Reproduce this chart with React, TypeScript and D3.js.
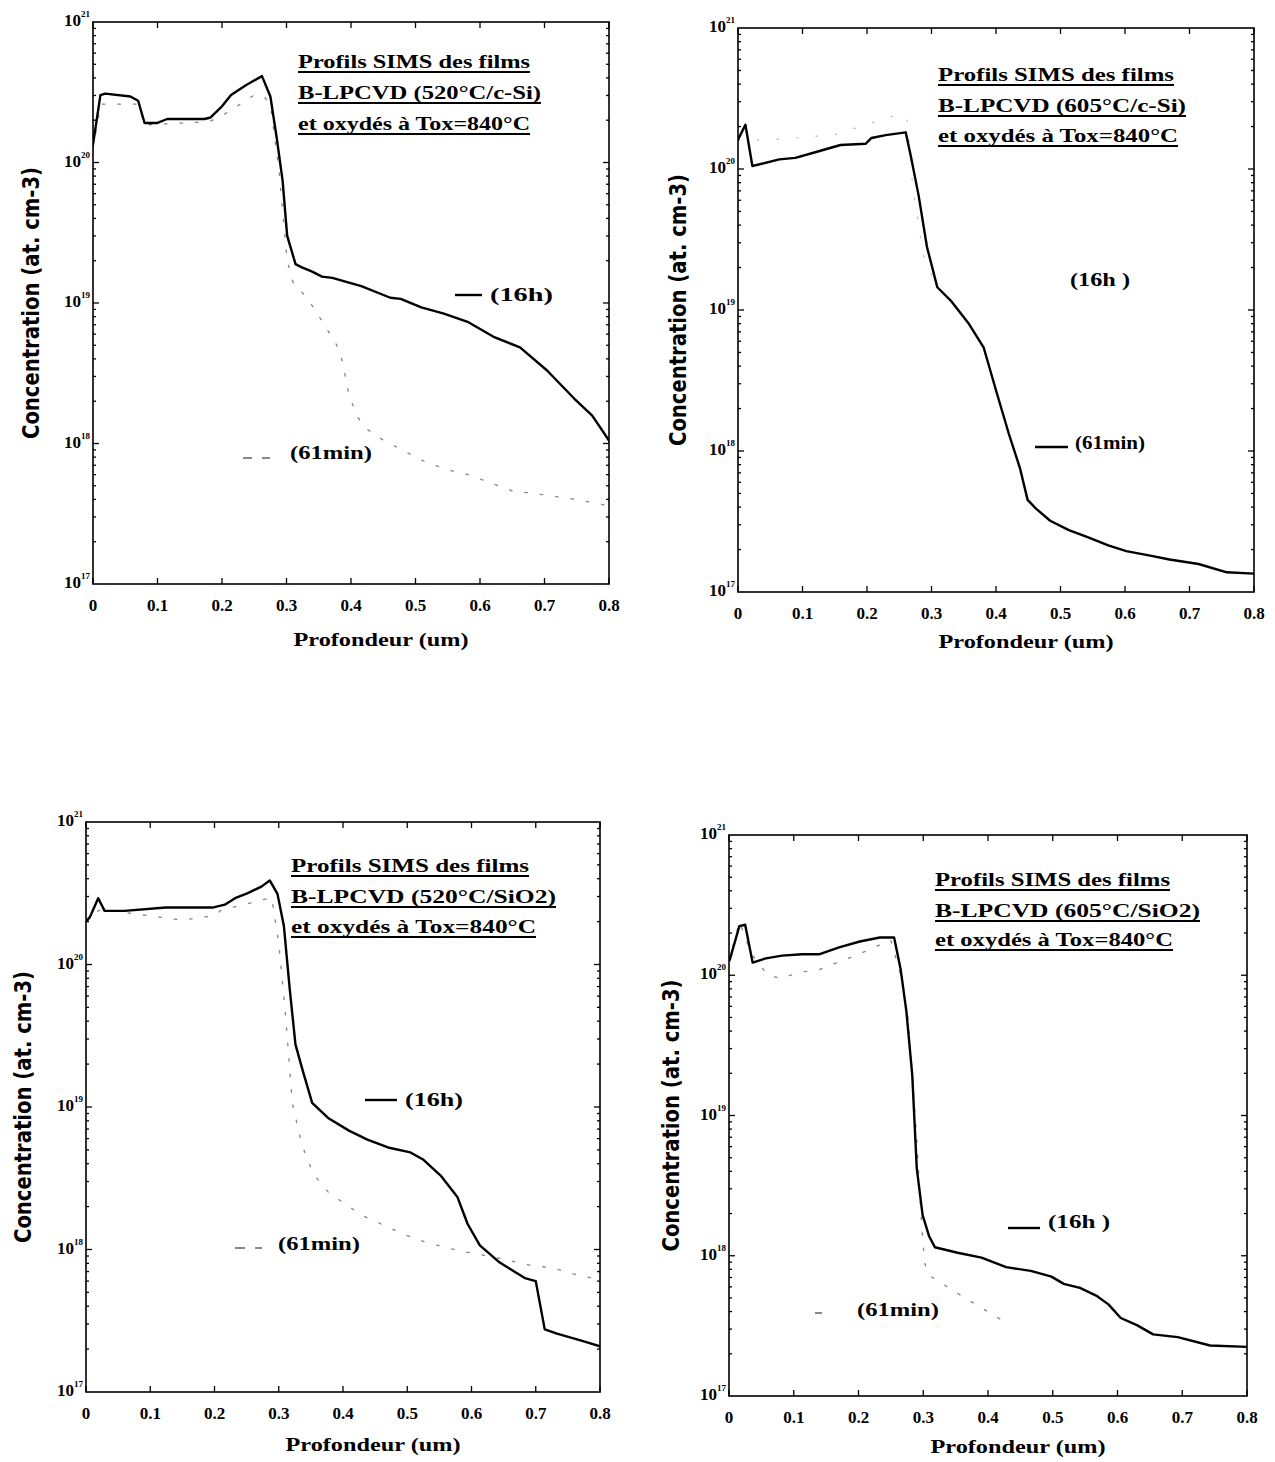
import React from "react";
import * as d3 from "d3";

// ---- shared axes ----
const depthTicks = [0, 0.1, 0.2, 0.3, 0.4, 0.5, 0.6, 0.7, 0.8];
const depthTickLabels = ["0", "0.1", "0.2", "0.3", "0.4", "0.5", "0.6", "0.7", "0.8"];
const decadeExponents = [17, 18, 19, 20, 21];
const xAxisTitle = "Profondeur (um)";
const yAxisTitle = "Concentration (at. cm-3)";

// ---- panel 1 : 520°C / c-Si ----
const p1Depth16h = [0, 0.0115, 0.019, 0.058, 0.07, 0.08, 0.099, 0.115, 0.173, 0.182, 0.2, 0.214, 0.237, 0.262, 0.275, 0.285, 0.294, 0.301, 0.314, 0.323, 0.339, 0.355, 0.371, 0.416, 0.461, 0.477, 0.509, 0.544, 0.582, 0.621, 0.662, 0.704, 0.746, 0.774, 0.8];
const p1Conc16h = [1.34e20, 3.02e20, 3.09e20, 2.95e20, 2.75e20, 1.91e20, 1.91e20, 2.04e20, 2.04e20, 2.09e20, 2.51e20, 3.02e20, 3.55e20, 4.12e20, 2.95e20, 1.48e20, 7.4e19, 3.02e19, 1.89e19, 1.8e19, 1.68e19, 1.54e19, 1.51e19, 1.32e19, 1.09e19, 1.07e19, 9.3e18, 8.4e18, 7.3e18, 5.75e18, 4.83e18, 3.31e18, 2.09e18, 1.58e18, 1.05e18];
const p1Depth61min = [0, 0.012, 0.07, 0.08, 0.18, 0.2, 0.25, 0.265, 0.275, 0.288, 0.301, 0.31, 0.333, 0.358, 0.378, 0.387, 0.397, 0.41, 0.422, 0.451, 0.515, 0.55, 0.582, 0.65, 0.685, 0.749, 0.8];
const p1Conc61min = [1.26e20, 2.6e20, 2.6e20, 1.85e20, 1.95e20, 2.15e20, 3.02e20, 2.95e20, 2.57e20, 9.1e19, 2.0e19, 1.41e19, 1.07e19, 7.1e18, 5.0e18, 3.8e18, 2.19e18, 1.55e18, 1.29e18, 1.05e18, 7.4e17, 6.5e17, 6.0e17, 4.6e17, 4.4e17, 4.0e17, 3.6e17];

// ---- panel 2 : 605°C / c-Si ----
const p2Depth61min = [0, 0.0115, 0.0223, 0.064, 0.089, 0.121, 0.159, 0.198, 0.207, 0.229, 0.26, 0.268, 0.28, 0.293, 0.309, 0.331, 0.357, 0.381, 0.401, 0.42, 0.437, 0.449, 0.462, 0.484, 0.513, 0.542, 0.574, 0.602, 0.637, 0.669, 0.714, 0.758, 0.8];
const p2Conc61min = [1.61e20, 2.06e20, 1.05e20, 1.17e20, 1.2e20, 1.32e20, 1.48e20, 1.51e20, 1.66e20, 1.74e20, 1.82e20, 1.23e20, 6.5e19, 2.8e19, 1.45e19, 1.15e19, 8.1e18, 5.4e18, 2.6e18, 1.32e18, 7.6e17, 4.5e17, 3.9e17, 3.2e17, 2.75e17, 2.45e17, 2.14e17, 1.95e17, 1.82e17, 1.7e17, 1.58e17, 1.38e17, 1.35e17];
const p2Depth16h = [0, 0.057, 0.15, 0.249, 0.262, 0.271, 0.287, 0.31];
const p2Conc16h = [1.6e20, 1.62e20, 1.75e20, 2.45e20, 2.3e20, 7.4e19, 2.45e19, 1.4e19];

// ---- panel 3 : 520°C / SiO2 ----
const p3Depth16h = [0, 0.006, 0.019, 0.029, 0.06, 0.124, 0.197, 0.216, 0.232, 0.251, 0.273, 0.286, 0.298, 0.308, 0.317, 0.326, 0.337, 0.352, 0.378, 0.41, 0.438, 0.47, 0.505, 0.524, 0.552, 0.578, 0.594, 0.613, 0.644, 0.683, 0.7, 0.714, 0.733, 0.771, 0.8];
const p3Conc16h = [2.0e20, 2.15e20, 2.92e20, 2.38e20, 2.38e20, 2.51e20, 2.51e20, 2.63e20, 2.92e20, 3.16e20, 3.52e20, 3.89e20, 3.13e20, 1.86e20, 6.8e19, 2.75e19, 1.82e19, 1.07e19, 8.3e18, 6.8e18, 5.9e18, 5.2e18, 4.8e18, 4.3e18, 3.3e18, 2.34e18, 1.51e18, 1.07e18, 8.1e17, 6.3e17, 6.0e17, 2.75e17, 2.57e17, 2.29e17, 2.09e17];
const p3Depth61min = [0, 0.02, 0.05, 0.149, 0.2, 0.21, 0.289, 0.3, 0.311, 0.321, 0.333, 0.343, 0.356, 0.378, 0.429, 0.498, 0.53, 0.581, 0.632, 0.689, 0.727, 0.771, 0.8];
const p3Conc61min = [2.0e20, 2.4e20, 2.35e20, 2.05e20, 2.2e20, 2.4e20, 2.95e20, 1.41e20, 4.2e19, 1.07e19, 6.2e18, 4.4e18, 3.3e18, 2.5e18, 1.74e18, 1.26e18, 1.12e18, 9.8e17, 8.9e17, 7.8e17, 7.4e17, 6.5e17, 6.2e17];

// ---- panel 4 : 605°C / SiO2 ----
const p4Depth16h = [0.001, 0.016, 0.025, 0.0365, 0.057, 0.082, 0.113, 0.139, 0.17, 0.202, 0.233, 0.255, 0.265, 0.274, 0.283, 0.29, 0.299, 0.309, 0.318, 0.353, 0.39, 0.428, 0.466, 0.498, 0.517, 0.542, 0.567, 0.586, 0.605, 0.63, 0.655, 0.693, 0.743, 0.8];
const p4Conc16h = [1.28e20, 2.24e20, 2.29e20, 1.23e20, 1.32e20, 1.38e20, 1.41e20, 1.41e20, 1.58e20, 1.74e20, 1.86e20, 1.86e20, 1.11e20, 5.5e19, 1.95e19, 4.2e18, 1.95e18, 1.38e18, 1.15e18, 1.05e18, 9.7e17, 8.3e17, 7.8e17, 7.1e17, 6.3e17, 5.9e17, 5.2e17, 4.5e17, 3.6e17, 3.2e17, 2.75e17, 2.63e17, 2.29e17, 2.24e17];
const p4Depth61min = [0, 0.016, 0.035, 0.06, 0.08, 0.11, 0.14, 0.2, 0.25, 0.265, 0.277, 0.29, 0.296, 0.302, 0.31, 0.35, 0.42];
const p4Conc61min = [1.26e20, 2.4e20, 1.41e20, 1.0e20, 9.5e19, 1.05e20, 1.1e20, 1.41e20, 1.78e20, 1.0e20, 4.8e19, 6.8e18, 2.1e18, 8.9e17, 7.2e17, 5.5e17, 3.5e17];

// ---- annotation text ----
const titleLine1 = "Profils SIMS des films";
const titleLine3 = "et oxydés à Tox=840°C";
const p1Title2 = "B-LPCVD (520°C/c-Si)";
const p2Title2 = "B-LPCVD (605°C/c-Si)";
const p3Title2 = "B-LPCVD (520°C/SiO2)";
const p4Title2 = "B-LPCVD (605°C/SiO2)";
const label16h = "(16h)";
const label16hSpaced = "(16h )";
const label61min = "(61min)";

const SERIF = "'Liberation Serif', 'Times New Roman', serif";
const HAND = "'DejaVu Sans', 'Noto Sans', sans-serif";

type Frame = { x0: number; x1: number; y0: number; y1: number };
type Curve = { depth: number[]; conc: number[]; kind: "solid" | "dashed" | "faint" };
type LegendItem = {
  text: string;
  tx: number;
  ty: number;
  tw: number;
  segs: [number, number][];
  sy: number;
  kind: "solid" | "dashed";
};
type PanelCfg = {
  id: string;
  frame: Frame;
  curves: Curve[];
  titles: string[];
  titleX: number;
  titleBase: number[];
  titleW: number[];
  legends: LegendItem[];
  yLabelX: number;
  xTitleDy: number;
};

const panels: PanelCfg[] = [
  {
    id: "p1",
    frame: { x0: 93, x1: 609, y0: 22, y1: 584 },
    curves: [
      { depth: p1Depth61min, conc: p1Conc61min, kind: "dashed" },
      { depth: p1Depth16h, conc: p1Conc16h, kind: "solid" },
    ],
    titles: [titleLine1, p1Title2, titleLine3],
    titleX: 298,
    titleBase: [68, 99, 130],
    titleW: [232, 243, 232],
    legends: [
      { text: label16h, tx: 490, ty: 301, tw: 63, segs: [[455, 482]], sy: 295, kind: "solid" },
      { text: label61min, tx: 290, ty: 459, tw: 82, segs: [[243, 252], [262, 270]], sy: 458, kind: "dashed" },
    ],
    yLabelX: 30,
    xTitleDy: 62,
  },
  {
    id: "p2",
    frame: { x0: 738, x1: 1254, y0: 28, y1: 592 },
    curves: [
      { depth: p2Depth16h, conc: p2Conc16h, kind: "faint" },
      { depth: p2Depth61min, conc: p2Conc61min, kind: "solid" },
    ],
    titles: [titleLine1, p2Title2, titleLine3],
    titleX: 938,
    titleBase: [81, 112, 142],
    titleW: [236, 248, 240],
    legends: [
      { text: label16hSpaced, tx: 1070, ty: 286, tw: 60, segs: [], sy: 0, kind: "solid" },
      { text: label61min, tx: 1075, ty: 449, tw: 70, segs: [[1035, 1068]], sy: 447, kind: "solid" },
    ],
    yLabelX: 677,
    xTitleDy: 56,
  },
  {
    id: "p3",
    frame: { x0: 86, x1: 600, y0: 822, y1: 1392 },
    curves: [
      { depth: p3Depth61min, conc: p3Conc61min, kind: "dashed" },
      { depth: p3Depth16h, conc: p3Conc16h, kind: "solid" },
    ],
    titles: [titleLine1, p3Title2, titleLine3],
    titleX: 291,
    titleBase: [872, 903, 933],
    titleW: [238, 265, 245],
    legends: [
      { text: label16h, tx: 405, ty: 1106, tw: 58, segs: [[365, 397]], sy: 1100, kind: "solid" },
      { text: label61min, tx: 278, ty: 1250, tw: 82, segs: [[235, 245], [255, 262]], sy: 1248, kind: "dashed" },
    ],
    yLabelX: 22,
    xTitleDy: 59,
  },
  {
    id: "p4",
    frame: { x0: 729, x1: 1247, y0: 835, y1: 1396 },
    curves: [
      { depth: p4Depth61min, conc: p4Conc61min, kind: "dashed" },
      { depth: p4Depth16h, conc: p4Conc16h, kind: "solid" },
    ],
    titles: [titleLine1, p4Title2, titleLine3],
    titleX: 935,
    titleBase: [886, 917, 946],
    titleW: [235, 265, 238],
    legends: [
      { text: label16hSpaced, tx: 1048, ty: 1228, tw: 62, segs: [[1008, 1040]], sy: 1228, kind: "solid" },
      { text: label61min, tx: 857, ty: 1316, tw: 82, segs: [[815, 822]], sy: 1313, kind: "dashed" },
    ],
    yLabelX: 670,
    xTitleDy: 57,
  },
];

const curveStyle = (kind: Curve["kind"]) => {
  if (kind === "solid") return { stroke: "#000", strokeWidth: 2.4, strokeDasharray: undefined, opacity: 1 };
  if (kind === "dashed") return { stroke: "#666", strokeWidth: 1.3, strokeDasharray: "2.5 13", opacity: 0.8 };
  return { stroke: "#aaa", strokeWidth: 1.2, strokeDasharray: "1.5 18", opacity: 0.8 };
};

function Panel({ cfg }: { cfg: PanelCfg }) {
  const { frame } = cfg;
  const x = d3.scaleLinear().domain([0, 0.8]).range([frame.x0, frame.x1]);
  const y = d3.scaleLog().domain([1e17, 1e21]).range([frame.y1, frame.y0]);
  const line = d3
    .line<[number, number]>()
    .x((d) => x(d[0]))
    .y((d) => y(d[1]));

  // log minor ticks within each decade
  const yTicks: { v: number; major: boolean }[] = [];
  for (let e = 17; e < 21; e++) {
    for (let m = 1; m <= 9; m++) {
      if (e === 17 && m === 1) continue;
      yTicks.push({ v: m * Math.pow(10, e), major: m === 1 });
    }
  }

  const midX = (frame.x0 + frame.x1) / 2;
  const midY = (frame.y0 + frame.y1) / 2;

  return (
    <g>
      <defs>
        <clipPath id={`clip-${cfg.id}`}>
          <rect x={frame.x0} y={frame.y0} width={frame.x1 - frame.x0} height={frame.y1 - frame.y0} />
        </clipPath>
      </defs>

      {/* curves */}
      <g clipPath={`url(#clip-${cfg.id})`}>
        {cfg.curves.map((c, i) => {
          const pts = c.depth.map((d, k) => [d, c.conc[k]] as [number, number]);
          const s = curveStyle(c.kind);
          return (
            <path
              key={i}
              d={line(pts) || ""}
              fill="none"
              stroke={s.stroke}
              strokeWidth={s.strokeWidth}
              strokeDasharray={s.strokeDasharray}
              opacity={s.opacity}
              strokeLinejoin="round"
              strokeLinecap="round"
            />
          );
        })}
      </g>

      {/* frame */}
      <rect
        x={frame.x0}
        y={frame.y0}
        width={frame.x1 - frame.x0}
        height={frame.y1 - frame.y0}
        fill="none"
        stroke="#000"
        strokeWidth={1.6}
      />

      {/* depth ticks, bottom and top, pointing inward */}
      {depthTicks.map((t, i) => (
        <g key={i}>
          <line x1={x(t)} x2={x(t)} y1={frame.y1} y2={frame.y1 - 6} stroke="#000" strokeWidth={1.3} />
          <line x1={x(t)} x2={x(t)} y1={frame.y0} y2={frame.y0 + 6} stroke="#000" strokeWidth={1.3} />
          <text
            x={x(t)}
            y={frame.y1 + 27}
            textAnchor="middle"
            fontFamily={SERIF}
            fontWeight="bold"
            fontSize={17}
          >
            {depthTickLabels[i]}
          </text>
        </g>
      ))}

      {/* concentration ticks, left and right */}
      {yTicks.map((t, i) => {
        const len = t.major ? 6 : 3;
        return (
          <g key={i}>
            <line x1={frame.x0} x2={frame.x0 + len} y1={y(t.v)} y2={y(t.v)} stroke="#000" strokeWidth={1.3} />
            <line x1={frame.x1} x2={frame.x1 - len} y1={y(t.v)} y2={y(t.v)} stroke="#000" strokeWidth={1.3} />
          </g>
        );
      })}

      {/* decade labels */}
      {decadeExponents.map((e) => (
        <text
          key={e}
          x={frame.x0 - 3}
          y={y(Math.pow(10, e)) + 4}
          textAnchor="end"
          fontFamily={SERIF}
          fontWeight="bold"
          fontSize={17}
        >
          10
          <tspan fontSize={9} dy={-9}>
            {e}
          </tspan>
        </text>
      ))}

      {/* axis titles */}
      <text
        x={midX + 30}
        y={frame.y1 + cfg.xTitleDy}
        textAnchor="middle"
        fontFamily={SERIF}
        fontWeight="bold"
        fontSize={19}
        textLength={175}
        lengthAdjust="spacingAndGlyphs"
      >
        {xAxisTitle}
      </text>
      <text
        transform={`translate(${cfg.yLabelX + 9},${midY}) rotate(-90)`}
        textAnchor="middle"
        fontFamily={HAND}
        fontWeight="bold"
        fontSize={23}
        textLength={272}
        lengthAdjust="spacingAndGlyphs"
      >
        {yAxisTitle}
      </text>

      {/* underlined title block */}
      {cfg.titles.map((t, i) => (
        <g key={i}>
          <text
            x={cfg.titleX}
            y={cfg.titleBase[i]}
            fontFamily={SERIF}
            fontWeight="bold"
            fontSize={19}
            textLength={cfg.titleW[i]}
            lengthAdjust="spacingAndGlyphs"
          >
            {t}
          </text>
          <line
            x1={cfg.titleX}
            x2={cfg.titleX + cfg.titleW[i]}
            y1={cfg.titleBase[i] + 4}
            y2={cfg.titleBase[i] + 4}
            stroke="#000"
            strokeWidth={2}
          />
        </g>
      ))}

      {/* curve labels */}
      {cfg.legends.map((l, i) => (
        <g key={i}>
          {l.segs.map((s, k) => (
            <line
              key={k}
              x1={s[0]}
              x2={s[1]}
              y1={l.sy}
              y2={l.sy}
              stroke={l.kind === "solid" ? "#000" : "#555"}
              strokeWidth={l.kind === "solid" ? 2.4 : 1.4}
            />
          ))}
          <text
            x={l.tx}
            y={l.ty}
            fontFamily={SERIF}
            fontWeight="bold"
            fontSize={18}
            textLength={l.tw}
            lengthAdjust="spacingAndGlyphs"
          >
            {l.text}
          </text>
        </g>
      ))}
    </g>
  );
}

export default function App() {
  return (
    <svg
      width={1275}
      height={1462}
      viewBox="0 0 1275 1462"
      style={{ display: "block", position: "absolute", left: 0, top: 0, background: "#fff" }}
    >
      <rect x={0} y={0} width={1275} height={1462} fill="#fff" />
      {panels.map((p) => (
        <Panel key={p.id} cfg={p} />
      ))}
    </svg>
  );
}
